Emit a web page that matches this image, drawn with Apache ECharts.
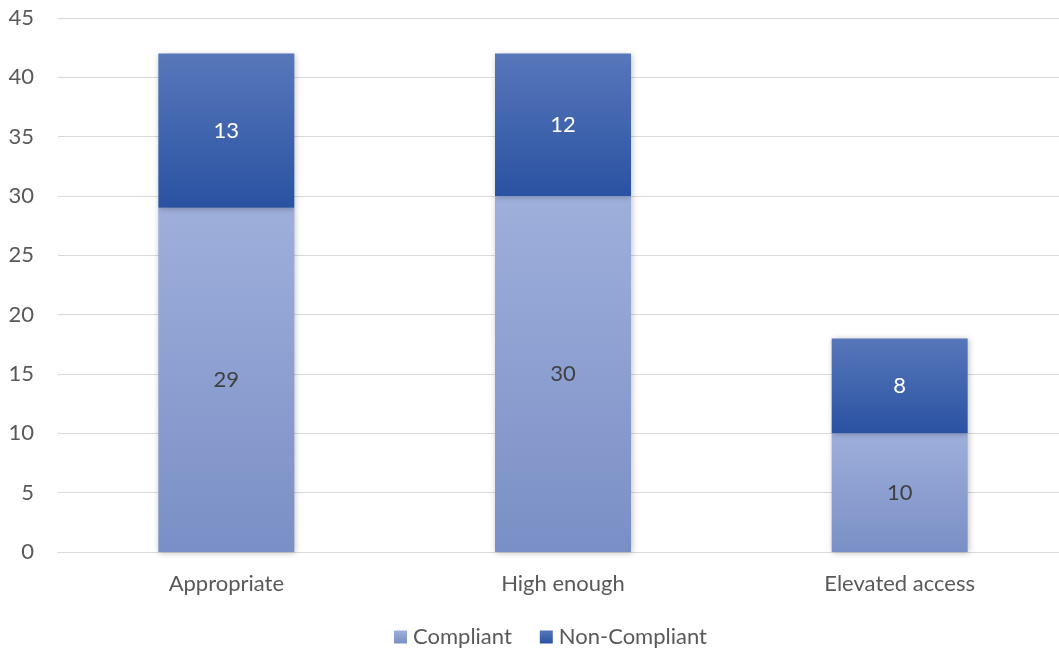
<!DOCTYPE html>
<html><head><meta charset="utf-8">
<script src="https://cdn.jsdelivr.net/npm/echarts@6/dist/echarts.min.js"></script>
<style>html,body{margin:0;padding:0;background:#fff;overflow:hidden}#c{width:1068px;height:652px}</style>
</head><body><div id="c"></div>
<script>
const categories = ["Appropriate", "High enough", "Elevated access"];
const compliant = [29, 30, 10];
const nonCompliant = [13, 12, 8];
const yTicks = [0, 5, 10, 15, 20, 25, 30, 35, 40, 45];

const font = "Lato, 'Open Sans', sans-serif";
const fs = 22;
const chart = echarts.init(document.getElementById('c'), null, {renderer: 'canvas'});
const grad = (a, b) => new echarts.graphic.LinearGradient(0, 0, 0, 1, [{offset: 0, color: a}, {offset: 1, color: b}]);
chart.setOption({
  animation: false,
  textStyle: {fontFamily: font},
  grid: {left: 58, right: 0, top: 18, bottom: 100, containLabel: false},
  legend: {
    top: 626, left: 394, itemWidth: 13, itemHeight: 13, itemGap: 28, padding: 0,
    icon: 'rect',
    textStyle: {fontFamily: font, fontSize: fs, color: '#595959', padding: [0, 0, 0, 1]},
    data: ['Compliant', 'Non-Compliant']
  },
  xAxis: {
    type: 'category', data: categories,
    axisLine: {lineStyle: {color: '#d9d9d9', width: 1}},
    axisTick: {show: false},
    axisLabel: {fontFamily: font, fontSize: fs, color: '#595959', margin: 21}
  },
  yAxis: {
    type: 'value', min: 0, max: 45, interval: 5,
    axisLine: {show: false}, axisTick: {show: false},
    splitLine: {lineStyle: {color: '#d9d9d9', width: 1}},
    axisLabel: {fontFamily: font, fontSize: fs, color: '#595959', margin: 24,
      formatter: v => yTicks.includes(v) ? String(v) : ''}
  },
  series: [
    {
      name: 'Compliant', type: 'bar', stack: 's', barWidth: 136, data: compliant,
      itemStyle: {color: grad('#9eafdb', '#7a8fc6'), shadowColor: 'rgba(0,0,0,0.25)', shadowBlur: 6, shadowOffsetX: 1, shadowOffsetY: 1},
      label: {show: true, position: 'inside', fontFamily: font, fontSize: fs, color: '#404040'}
    },
    {
      name: 'Non-Compliant', type: 'bar', stack: 's', barWidth: 136, data: nonCompliant,
      itemStyle: {color: grad('#5777ba', '#2a52a2'), shadowColor: 'rgba(0,0,0,0.25)', shadowBlur: 6, shadowOffsetX: 1, shadowOffsetY: 1},
      label: {show: true, position: 'inside', fontFamily: font, fontSize: fs, color: '#ffffff'}
    }
  ]
});
</script></body></html>
